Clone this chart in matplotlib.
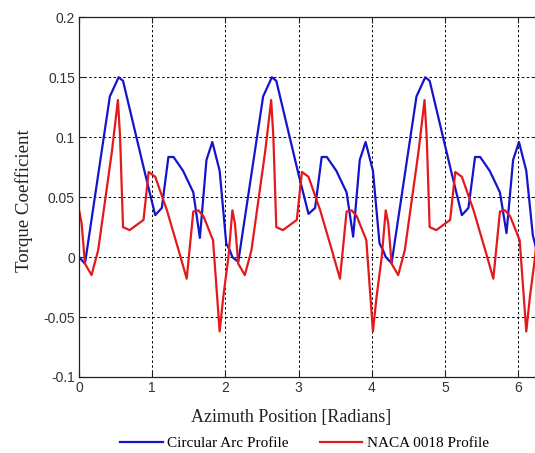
import matplotlib
matplotlib.use("Agg")
import matplotlib.pyplot as plt
import numpy as np

# Circular Arc Profile (blue)
arc_x = [0.00, 0.08, 0.42, 0.54, 0.60, 0.90, 1.04, 1.13, 1.22, 1.29, 1.42, 1.56, 1.65, 1.74, 1.82, 1.92, 2.01, 2.06,
         2.094, 2.174, 2.514, 2.634, 2.694, 2.994, 3.134, 3.224, 3.314, 3.384, 3.514, 3.654, 3.744, 3.834, 3.914, 4.014, 4.104, 4.154,
         4.189, 4.269, 4.609, 4.729, 4.789, 5.089, 5.229, 5.319, 5.409, 5.479, 5.609, 5.749, 5.839, 5.929, 6.009, 6.109, 6.199, 6.249, 6.283]
arc_y = [0.000, -0.0055, 0.134, 0.150, 0.147, 0.070, 0.035, 0.041, 0.0835, 0.0835, 0.072, 0.054, 0.016, 0.081, 0.096, 0.072, 0.0115, 0.0055,
         0.000, -0.004, 0.134, 0.150, 0.147, 0.070, 0.036, 0.041, 0.0835, 0.0835, 0.072, 0.054, 0.017, 0.081, 0.096, 0.072, 0.0115, 0.0055,
         0.000, -0.005, 0.134, 0.150, 0.147, 0.070, 0.035, 0.041, 0.0835, 0.0835, 0.072, 0.054, 0.020, 0.081, 0.096, 0.072, 0.018, 0.006, 0.000]

# NACA 0018 Profile (red)
naca_x = [0.00, 0.035, 0.08, 0.17, 0.26, 0.35, 0.45, 0.53, 0.56, 0.60, 0.69, 0.88, 0.95, 1.04, 1.20, 1.36, 1.47, 1.56, 1.63, 1.70, 1.83, 1.92, 1.97, 2.04,
          2.094, 2.129, 2.174, 2.264, 2.354, 2.444, 2.544, 2.624, 2.654, 2.694, 2.784, 2.974, 3.044, 3.134, 3.294, 3.454, 3.564, 3.654, 3.724, 3.794, 3.924, 4.014, 4.064, 4.134,
          4.189, 4.224, 4.269, 4.359, 4.449, 4.539, 4.639, 4.719, 4.749, 4.789, 4.879, 5.069, 5.139, 5.229, 5.389, 5.549, 5.659, 5.749, 5.819, 5.889, 6.019, 6.109, 6.159, 6.229, 6.283]
naca_y = [0.039, 0.028, -0.0055, -0.015, 0.0056, 0.045, 0.089, 0.131, 0.100, 0.025, 0.0225, 0.031, 0.071, 0.067, 0.039, 0.0056, -0.018, 0.038, 0.039, 0.034, 0.014, -0.062, -0.033, 0.000,
          0.039, 0.028, -0.0055, -0.015, 0.0056, 0.045, 0.089, 0.131, 0.100, 0.025, 0.0225, 0.031, 0.071, 0.067, 0.039, 0.0056, -0.018, 0.038, 0.039, 0.034, 0.014, -0.062, -0.033, 0.000,
          0.039, 0.028, -0.0055, -0.015, 0.0056, 0.045, 0.089, 0.131, 0.100, 0.025, 0.0225, 0.031, 0.071, 0.067, 0.039, 0.0056, -0.018, 0.038, 0.039, 0.034, 0.014, -0.062, -0.033, 0.000, 0.039]

x_ticks = [0, 1, 2, 3, 4, 5, 6]
y_ticks = [-0.1, -0.05, 0, 0.05, 0.1, 0.15, 0.2]
y_tick_labels = ["-0.1", "-0.05", "0", "0.05", "0.1", "0.15", "0.2"]

W, H = 535, 453
fig = plt.figure(figsize=(W / 100, H / 100), dpi=100)
left_px, top_px, bottom_px = 79.1, 17.3, 377.0
right_px = 79.1 + 2 * np.pi * 73.2
ax = fig.add_axes([left_px / W, 1 - bottom_px / H, (right_px - left_px) / W, (bottom_px - top_px) / H])

l1, = ax.plot(arc_x, arc_y, color="#1414cc", lw=1.6, label="Circular Arc Profile")
l2, = ax.plot(naca_x, naca_y, color="#e4191c", lw=1.6, label="NACA 0018 Profile")

ax.set_xlim(0, 2 * np.pi)
ax.set_ylim(-0.1, 0.2)
ax.set_xticks(x_ticks)
ax.set_yticks(y_ticks)
ax.set_yticklabels(y_tick_labels)
ax.grid(True, color="black", linestyle=(0, (2.5, 2.5)), linewidth=0.7)
ax.tick_params(direction="in", top=True, right=True, length=4, labelsize=10, colors="#222222",
               labelcolor="#333333", pad=3)
for lab in ax.get_xticklabels() + ax.get_yticklabels():
    lab.set_fontfamily("Liberation Sans")
for s in ax.spines.values():
    s.set_color("#222222")
    s.set_linewidth(0.9)

ax.set_xlabel("Azimuth Position [Radians]", fontfamily="Liberation Serif", fontsize=13, color="#222222")
ax.xaxis.set_label_coords(0.461, -0.088)
ax.set_ylabel("Torque Coefficient", fontfamily="Liberation Serif", fontsize=13.6, color="#222222")
ax.yaxis.set_label_coords(-0.100, 0.49)

fig.legend(handles=[l1, l2], loc="center", bbox_to_anchor=(304.5 / W, 1 - 443 / H), ncol=2, frameon=False,
           prop={"family": "Liberation Serif", "size": 11}, handlelength=2.8, columnspacing=2.0, handletextpad=0.3)

fig.savefig("out.png", dpi=100)
